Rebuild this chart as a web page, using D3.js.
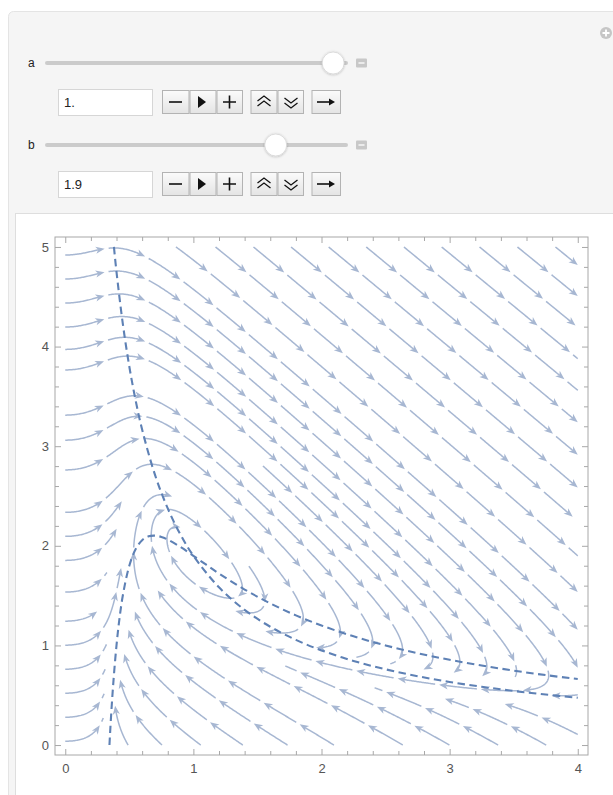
<!DOCTYPE html>
<html><head><meta charset="utf-8">
<script src="https://cdn.jsdelivr.net/npm/d3@7"></script>
<style>html,body{margin:0;padding:0;background:#fff;overflow:hidden}</style>
</head><body><svg id="c" width="613" height="795"></svg>
<script>
// ---------------- data ----------------
const paramNames = ["a", "b"];
const paramValues = [1.0, 1.9];
const paramText = ["1.", "1.9"];
const paramMax = [1.014, 2.43];
const xTicks = [0, 1, 2, 3, 4];
const yTicks = [0, 1, 2, 3, 4, 5];
const xDomain = [0, 4];
const yDomain = [0, 5];
// nullcline dx/dt = 0
const ncXx = [0.345,0.35,0.36,0.37,0.38,0.40,0.42,0.45,0.50,0.55,0.60,0.65,0.70,0.75,0.80,0.90,1.00,1.10,1.20,1.40,1.60,1.80,2.00,2.25,2.50,2.75,3.00,3.25,3.50,3.75,4.00];
const ncXy = [0.0,0.122,0.340,0.533,0.706,1.0,1.236,1.506,1.8,1.967,2.056,2.095,2.102,2.089,2.0625,1.988,1.9,1.810,1.722,1.561,1.422,1.302,1.2,1.091,1.0,0.922,0.856,0.798,0.747,0.702,0.6625];
// nullcline dy/dt = 0
const ncYx = [0.38,0.40,0.45,0.50,0.55,0.60,0.70,0.80,0.90,1.00,1.20,1.40,1.60,1.80,2.00,2.25,2.50,2.75,3.00,3.25,3.50,3.75,4.00];
const ncYy = [5.0,4.75,4.222,3.8,3.455,3.167,2.714,2.375,2.111,1.9,1.583,1.357,1.1875,1.056,0.95,0.844,0.76,0.691,0.633,0.585,0.543,0.507,0.475];

// ---------------- page ----------------
const svg = d3.select("#c");
const streamColor = "#a7b7d2";
const lineColor = "#5e81b5";
const uiFont = "Liberation Sans, Arial, sans-serif";

svg.append("rect").attr("x", 8.5).attr("y", 11.5).attr("width", 640).attr("height", 820)
  .attr("rx", 5).attr("fill", "#f5f5f5").attr("stroke", "#e4e4e4");
svg.append("circle").attr("cx", 606).attr("cy", 33).attr("r", 6).attr("fill", "#c6c6c6");
svg.append("path").attr("d", "M602.5,33H609.5M606,29.5V36.5").attr("stroke", "#fff").attr("stroke-width", 1.8);

const defs = svg.append("defs");
const grad = defs.append("linearGradient").attr("id", "btn").attr("x1", 0).attr("y1", 0).attr("x2", 0).attr("y2", 1);
grad.append("stop").attr("offset", "0%").attr("stop-color", "#fbfbfb");
grad.append("stop").attr("offset", "100%").attr("stop-color", "#e4e4e4");
const kg = defs.append("filter").attr("id", "ksh").attr("x", "-50%").attr("y", "-50%").attr("width", "200%").attr("height", "200%");
kg.append("feDropShadow").attr("dx", 0).attr("dy", 0.5).attr("stdDeviation", 0.8).attr("flood-color", "#000").attr("flood-opacity", 0.25);

const rowY = [63, 145];
const fieldY = [89, 171];
const trackX0 = 45, trackX1 = 348;
paramNames.forEach((nm, i) => {
  const g = svg.append("g");
  const yy = rowY[i];
  g.append("text").attr("x", 28).attr("y", yy + 4).text(nm)
    .attr("font-family", uiFont).attr("font-size", 12).attr("fill", "#222");
  g.append("rect").attr("x", trackX0).attr("y", yy - 2).attr("width", trackX1 - trackX0).attr("height", 4)
    .attr("rx", 2).attr("fill", "#cbcbcb");
  const sc = d3.scaleLinear().domain([0, paramMax[i]]).range([trackX0 + 11, trackX1 - 11]);
  g.append("circle").attr("cx", sc(paramValues[i])).attr("cy", yy).attr("r", 11)
    .attr("fill", "#fff").attr("stroke", "#d4d4d4").attr("stroke-width", 0.8).attr("filter", "url(#ksh)");
  g.append("rect").attr("x", 356).attr("y", yy - 4.5).attr("width", 11).attr("height", 9).attr("rx", 1).attr("fill", "#c8c8c8");
  g.append("path").attr("d", `M358.5,${yy}H364.5`).attr("stroke", "#f4f4f4").attr("stroke-width", 1.6);
  const fy = fieldY[i];
  g.append("rect").attr("x", 58.5).attr("y", fy + 0.5).attr("width", 94).attr("height", 26)
    .attr("fill", "#fff").attr("stroke", "#d6d6d6");
  g.append("text").attr("x", 64).attr("y", fy + 18).text(paramText[i])
    .attr("font-family", uiFont).attr("font-size", 13).attr("fill", "#222");
  const by = fy + 1.5, bh = 23;
  const cells = [[162, 189.5], [189.5, 216.5], [216.5, 243], [250.5, 277.5], [277.5, 304], [311.5, 341]];
  cells.forEach(c => {
    g.append("rect").attr("x", c[0] + 0.5).attr("y", by).attr("width", c[1] - c[0] - 1).attr("height", bh)
      .attr("fill", "url(#btn)").attr("stroke", "#b3b3b3");
  });
  const cy = by + bh / 2;
  const ic = g.append("g").attr("stroke", "#111").attr("fill", "none").attr("stroke-width", 1.6);
  ic.append("path").attr("d", `M169,${cy}H182`);
  g.append("path").attr("d", `M198,${cy - 6}L206,${cy}L198,${cy + 6}Z`).attr("fill", "#111");
  ic.append("path").attr("d", `M223,${cy}H236M229.5,${cy - 6.5}V${cy + 6.5}`);
  ic.append("path").attr("d", `M257.5,${cy - 1}L264,${cy - 6}L270.5,${cy - 1}M257.5,${cy + 4}L264,${cy - 1}L270.5,${cy + 4}`).attr("stroke-width", 1.3);
  ic.append("path").attr("d", `M284.5,${cy - 4}L291,${cy + 1}L297.5,${cy - 4}M284.5,${cy + 1}L291,${cy + 6}L297.5,${cy + 1}`).attr("stroke-width", 1.3);
  ic.append("path").attr("d", `M317,${cy}H332`);
  g.append("path").attr("d", `M329,${cy - 3.5}L335,${cy}L329,${cy + 3.5}Z`).attr("fill", "#111");
});

svg.append("rect").attr("x", 15.5).attr("y", 213.5).attr("width", 640).attr("height", 640)
  .attr("fill", "#fff").attr("stroke", "#dedede");

// ---------------- plot ----------------
const x = d3.scaleLinear().domain([xDomain[0] - 0.08, xDomain[1] + 0.08]).range([55, 588]);
const y = d3.scaleLinear().domain([yDomain[0] - 0.1, yDomain[1] + 0.1]).range([755, 237]);

const a = paramValues[0], b = paramValues[1];
const X0 = x(xDomain[0]), X1 = x(xDomain[1]), Y0 = y(yDomain[1]), Y1 = y(yDomain[0]);
const kx = x(1) - x(0), ky = y(0) - y(1);
function dir(px, py) {
  const X = x.invert(px), Y = y.invert(py);
  const u = a - (b + 1) * X + X * X * Y, v = b * X - X * X * Y;
  const su = u * kx, sv = -v * ky;
  const m = Math.hypot(su, sv);
  if (m < 1e-9) return null;
  return [su / m, sv / m];
}
const inside = (px, py) => px >= X0 && px <= X1 && py >= Y0 && py <= Y1;
const fpx = x(a), fpy = y(b / a);

const dsep = 24, dtest = 13, hstep = 1;
const cell = dsep;
const gw = Math.ceil((X1 - X0) / cell) + 2, gh = Math.ceil((Y1 - Y0) / cell) + 2;
const grid = Array.from({ length: gw * gh }, () => []);
const cidx = (px, py) => [Math.max(0, Math.min(gw - 1, Math.floor((px - X0) / cell))), Math.max(0, Math.min(gh - 1, Math.floor((py - Y0) / cell)))];
function near(px, py, r) {
  const [i, j] = cidx(px, py);
  const rr = Math.ceil(r / cell);
  for (let di = -rr; di <= rr; di++) for (let dj = -rr; dj <= rr; dj++) {
    const ii = i + di, jj = j + dj;
    if (ii < 0 || jj < 0 || ii >= gw || jj >= gh) continue;
    for (const p of grid[ii + jj * gw]) if ((p[0] - px) ** 2 + (p[1] - py) ** 2 < r * r) return true;
  }
  return false;
}
function commit(pts) { for (const p of pts) { const [i, j] = cidx(p[0], p[1]); grid[i + j * gw].push(p); } }
function step(px, py, s) {
  const h = hstep;
  const k1 = dir(px, py); if (!k1) return null;
  const k2 = dir(px + s * k1[0] * h / 2, py + s * k1[1] * h / 2); if (!k2) return null;
  const k3 = dir(px + s * k2[0] * h / 2, py + s * k2[1] * h / 2); if (!k3) return null;
  const k4 = dir(px + s * k3[0] * h, py + s * k3[1] * h); if (!k4) return null;
  return [px + s * h * (k1[0] + 2 * k2[0] + 2 * k3[0] + k4[0]) / 6, py + s * h * (k1[1] + 2 * k2[1] + 2 * k3[1] + k4[1]) / 6];
}
function traceLine(sx, sy) {
  const own = [[sx, sy, 0]];
  function selfNear(q, sCur) {
    for (let k = own.length - 1; k >= 0; k--) {
      const p = own[k];
      if (Math.abs(p[2] - sCur) < 4 * dtest) continue;
      if ((p[0] - q[0]) ** 2 + (p[1] - q[1]) ** 2 < dtest * dtest) return true;
    }
    return false;
  }
  const halves = [];
  for (const sg of [1, -1]) {
    const pts = [];
    let px = sx, py = sy;
    for (let n = 1; n < 3000; n++) {
      const q = step(px, py, sg);
      if (!q) break;
      if (!inside(q[0], q[1])) {
        let lo = 0, hi = 1;
        for (let it = 0; it < 20; it++) { const m = (lo + hi) / 2; if (inside(px + (q[0] - px) * m, py + (q[1] - py) * m)) lo = m; else hi = m; }
        pts.push([px + (q[0] - px) * lo, py + (q[1] - py) * lo]);
        break;
      }
      if (Math.hypot(q[0] - fpx, q[1] - fpy) < 2) break;
      if (near(q[0], q[1], dtest)) break;
      const s = sg * n * hstep;
      if (n % 2 === 0 && selfNear(q, s)) break;
      pts.push([q[0], q[1]]);
      if (n % 2 === 0) own.push([q[0], q[1], s]);
      px = q[0]; py = q[1];
    }
    halves.push(pts);
  }
  return halves[1].reverse().concat([[sx, sy]], halves[0]);
}
const lines = [];
function tryseed(sx, sy) {
  if (!inside(sx, sy)) return null;
  if (near(sx, sy, dsep * 0.98)) return null;
  const Ln = traceLine(sx, sy);
  if (Ln.length < 24) return null;
  commit(Ln); lines.push(Ln); return Ln;
}
const queue = [];
function fill(sx, sy) { const Ln = tryseed(sx, sy); if (Ln) queue.push(Ln); }
function drain() {
  while (queue.length) {
    const Ln = queue.shift();
    for (let i = 0; i < Ln.length; i += 4) {
      const p = Ln[i];
      const q = Ln[Math.min(Ln.length - 1, i + 1)], r = Ln[Math.max(0, i - 1)];
      let tx = q[0] - r[0], ty = q[1] - r[1]; const m = Math.hypot(tx, ty) || 1; tx /= m; ty /= m;
      fill(p[0] - ty * dsep, p[1] + tx * dsep);
      fill(p[0] + ty * dsep, p[1] - tx * dsep);
    }
  }
}
fill(x(0.02), y(5) + 8);
drain();
for (let gy = Y0 + 4; gy <= Y1; gy += 8) for (let gx = X0 + 4; gx <= X1; gx += 8) { fill(gx, gy); drain(); }

// draw streamlines as arrowed pieces
const sl = svg.append("g");
const pieceLen = 42, gap = 4, alen = 9, aw = 3.6;
function drawStream(pts) {
  const cum = [0];
  for (let i = 1; i < pts.length; i++) cum.push(cum[i - 1] + Math.hypot(pts[i][0] - pts[i - 1][0], pts[i][1] - pts[i - 1][1]));
  const total = cum[cum.length - 1];
  function at(s) {
    const i = d3.bisectLeft(cum, s);
    if (i <= 0) return [pts[0][0], pts[0][1]];
    if (i >= cum.length) return [pts[pts.length - 1][0], pts[pts.length - 1][1]];
    const t = (s - cum[i - 1]) / ((cum[i] - cum[i - 1]) || 1);
    return [pts[i - 1][0] + (pts[i][0] - pts[i - 1][0]) * t, pts[i - 1][1] + (pts[i][1] - pts[i - 1][1]) * t];
  }
  function seg(s0, s1) {
    const out = [at(s0)];
    for (let i = 0; i < cum.length; i++) if (cum[i] > s0 && cum[i] < s1) out.push([pts[i][0], pts[i][1]]);
    out.push(at(s1));
    return out;
  }
  const lineGen = d3.line();
  for (let s0 = 0; s0 < total - 2; s0 += pieceLen) {
    const s1 = Math.min(s0 + pieceLen, total);
    const a0 = s0 + (s0 > 0 ? gap / 2 : 0);
    const tip = s1 - (s1 < total ? gap / 2 : 0);
    if (tip - a0 < 3) continue;
    const hasArrow = tip - a0 >= 14;
    const le = hasArrow ? tip - alen * 0.7 : tip;
    sl.append("path").attr("d", lineGen(seg(a0, le))).attr("fill", "none")
      .attr("stroke", streamColor).attr("stroke-width", 1.5);
    if (hasArrow) {
      const T = at(tip), B = at(tip - 3);
      let dx = T[0] - B[0], dy = T[1] - B[1]; const m = Math.hypot(dx, dy) || 1; dx /= m; dy /= m;
      const nx = -dy, ny = dx;
      const p1 = [T[0] - dx * alen + nx * aw, T[1] - dy * alen + ny * aw];
      const p2 = [T[0] - dx * alen * 0.72, T[1] - dy * alen * 0.72];
      const p3 = [T[0] - dx * alen - nx * aw, T[1] - dy * alen - ny * aw];
      sl.append("path").attr("d", `M${T}L${p1}L${p2}L${p3}Z`).attr("fill", streamColor);
    }
  }
}
lines.forEach(drawStream);

// nullclines
const nl = d3.line().x(d => x(d[0])).y(d => y(d[1])).curve(d3.curveCatmullRom);
[[ncXx, ncXy], [ncYx, ncYy]].forEach(([xs, ys]) => {
  svg.append("path").attr("d", nl(xs.map((v, i) => [v, ys[i]]))).attr("fill", "none")
    .attr("stroke", lineColor).attr("stroke-width", 2.1).attr("stroke-dasharray", "7.5,4.5");
});

// frame, ticks
const minorX = d3.range(0, 4.0001, 0.2).filter(v => Math.abs(v - Math.round(v)) > 1e-6);
const minorY = d3.range(0, 5.0001, 0.2).filter(v => Math.abs(v - Math.round(v)) > 1e-6);
const tc = "#a8a8a8";
function styleAx(g) { g.select(".domain").remove(); g.selectAll("line").attr("stroke", tc); }
const fx = x.range(), fy = y.range();
svg.append("g").attr("transform", `translate(0,${fy[0]})`).call(d3.axisTop(x).tickValues(xTicks).tickSize(6).tickFormat("")).call(styleAx);
svg.append("g").attr("transform", `translate(0,${fy[0]})`).call(d3.axisTop(x).tickValues(minorX).tickSize(4).tickFormat("")).call(styleAx);
svg.append("g").attr("transform", `translate(0,${fy[1]})`).call(d3.axisBottom(x).tickValues(xTicks).tickSize(6).tickFormat("")).call(styleAx);
svg.append("g").attr("transform", `translate(0,${fy[1]})`).call(d3.axisBottom(x).tickValues(minorX).tickSize(4).tickFormat("")).call(styleAx);
svg.append("g").attr("transform", `translate(${fx[0]},0)`).call(d3.axisRight(y).tickValues(yTicks).tickSize(6).tickFormat("")).call(styleAx);
svg.append("g").attr("transform", `translate(${fx[0]},0)`).call(d3.axisRight(y).tickValues(minorY).tickSize(4).tickFormat("")).call(styleAx);
svg.append("g").attr("transform", `translate(${fx[1]},0)`).call(d3.axisLeft(y).tickValues(yTicks).tickSize(6).tickFormat("")).call(styleAx);
svg.append("g").attr("transform", `translate(${fx[1]},0)`).call(d3.axisLeft(y).tickValues(minorY).tickSize(4).tickFormat("")).call(styleAx);
svg.append("rect").attr("x", fx[0]).attr("y", fy[1]).attr("width", fx[1] - fx[0]).attr("height", fy[0] - fy[1])
  .attr("fill", "none").attr("stroke", tc).attr("stroke-width", 1);

const lab = g => { g.select(".domain").remove(); g.selectAll("text").attr("fill", "#555").attr("font-size", 13).attr("font-family", uiFont); };
svg.append("g").attr("transform", `translate(0,${fy[0]})`).call(d3.axisBottom(x).tickValues(xTicks).tickSize(0).tickPadding(9).tickFormat(d3.format("d"))).call(lab);
svg.append("g").attr("transform", `translate(${fx[0]},0)`).call(d3.axisLeft(y).tickValues(yTicks).tickSize(0).tickPadding(6).tickFormat(d3.format("d"))).call(lab);
</script></body></html>
